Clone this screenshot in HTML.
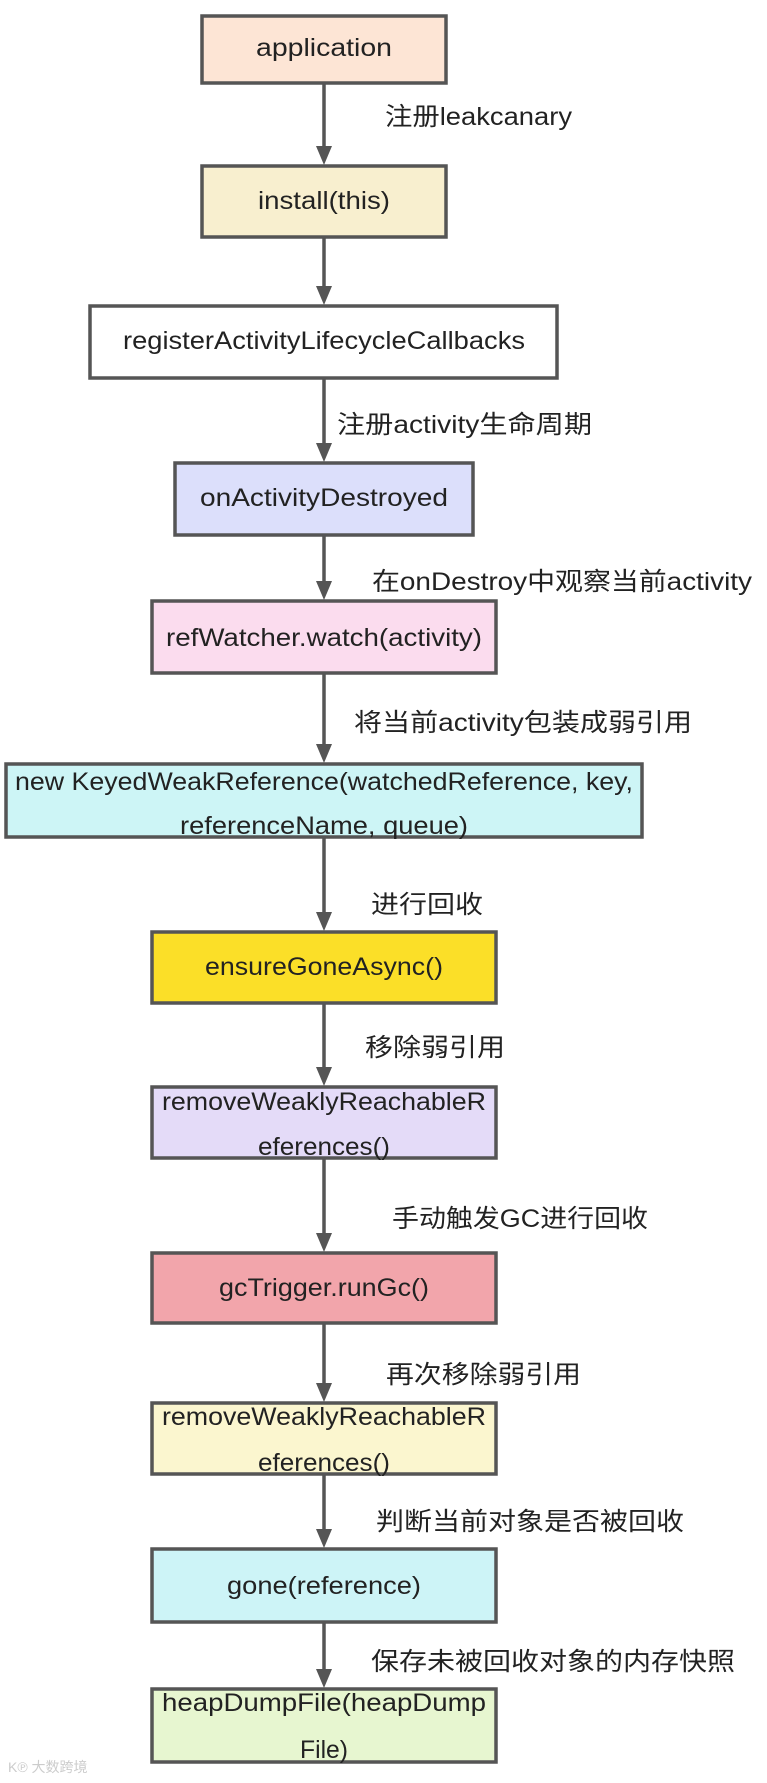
<!DOCTYPE html>
<html><head><meta charset="utf-8"><style>
html,body{margin:0;padding:0;background:#fff;}
svg{display:block;}
.b{stroke:#555;stroke-width:3.5;}
.t{font-family:"Liberation Sans","Noto Sans CJK SC",sans-serif;font-size:25px;fill:#222;text-anchor:middle;dominant-baseline:central;}
.l{font-family:"Liberation Sans","Noto Sans CJK SC",sans-serif;font-size:25px;fill:#222;dominant-baseline:central;}
</style></head><body>
<svg width="767" height="1783" viewBox="0 0 767 1783" xmlns="http://www.w3.org/2000/svg">
<g stroke="#555" stroke-width="3.5">
<line x1="324" y1="83" x2="324" y2="150"/>
<line x1="324" y1="238" x2="324" y2="290"/>
<line x1="324" y1="378" x2="324" y2="446"/>
<line x1="324" y1="535" x2="324" y2="584"/>
<line x1="324" y1="673" x2="324" y2="746"/>
<line x1="324" y1="837" x2="324" y2="915"/>
<line x1="324" y1="1003" x2="324" y2="1070"/>
<line x1="324" y1="1158" x2="324" y2="1235"/>
<line x1="324" y1="1323" x2="324" y2="1386"/>
<line x1="324" y1="1474" x2="324" y2="1532"/>
<line x1="324" y1="1622" x2="324" y2="1672"/>
</g>
<g fill="#555">
<polygon points="316,146 332,146 324,165"/>
<polygon points="316,286 332,286 324,305"/>
<polygon points="316,443 332,443 324,462"/>
<polygon points="316,581 332,581 324,600"/>
<polygon points="316,744 332,744 324,763"/>
<polygon points="316,912 332,912 324,931"/>
<polygon points="316,1067 332,1067 324,1086"/>
<polygon points="316,1233 332,1233 324,1252"/>
<polygon points="316,1383 332,1383 324,1402"/>
<polygon points="316,1529 332,1529 324,1548"/>
<polygon points="316,1669 332,1669 324,1688"/>
</g>
<rect class="b" x="202" y="16" width="244" height="67" fill="#fde5d5"/>
<rect class="b" x="202" y="166" width="244" height="71" fill="#f8efcf"/>
<rect class="b" x="90" y="306" width="467" height="72" fill="#fff"/>
<rect class="b" x="175" y="463" width="298" height="72" fill="#dcdffb"/>
<rect class="b" x="152" y="601" width="344" height="72" fill="#fbdcee"/>
<rect class="b" x="6" y="764" width="636" height="73" fill="#cdf5f6"/>
<rect class="b" x="152" y="932" width="344" height="71" fill="#fbdf28"/>
<rect class="b" x="152" y="1087" width="344" height="71" fill="#e4dbf8"/>
<rect class="b" x="152" y="1253" width="344" height="70" fill="#f2a5ab"/>
<rect class="b" x="152" y="1403" width="344" height="71" fill="#fbf6cf"/>
<rect class="b" x="152" y="1549" width="344" height="73" fill="#cdf4f7"/>
<rect class="b" x="152" y="1689" width="344" height="73" fill="#e7f6d0"/>
<text class="t" x="324" y="48" textLength="136" lengthAdjust="spacingAndGlyphs">application</text>
<text class="t" x="324" y="201" textLength="132" lengthAdjust="spacingAndGlyphs">install(this)</text>
<text class="t" x="324" y="341" textLength="402" lengthAdjust="spacingAndGlyphs">registerActivityLifecycleCallbacks</text>
<text class="t" x="324" y="498" textLength="248" lengthAdjust="spacingAndGlyphs">onActivityDestroyed</text>
<text class="t" x="324" y="638" textLength="316" lengthAdjust="spacingAndGlyphs">refWatcher.watch(activity)</text>
<text class="t" x="324" y="782" textLength="618" lengthAdjust="spacingAndGlyphs">new KeyedWeakReference(watchedReference, key,</text>
<text class="t" x="324" y="826" textLength="288" lengthAdjust="spacingAndGlyphs">referenceName, queue)</text>
<text class="t" x="324" y="967" textLength="238" lengthAdjust="spacingAndGlyphs">ensureGoneAsync()</text>
<text class="t" x="324" y="1102" textLength="324" lengthAdjust="spacingAndGlyphs">removeWeaklyReachableR</text>
<text class="t" x="324" y="1147" textLength="132" lengthAdjust="spacingAndGlyphs">eferences()</text>
<text class="t" x="324" y="1288" textLength="210" lengthAdjust="spacingAndGlyphs">gcTrigger.runGc()</text>
<text class="t" x="324" y="1417" textLength="324" lengthAdjust="spacingAndGlyphs">removeWeaklyReachableR</text>
<text class="t" x="324" y="1463" textLength="132" lengthAdjust="spacingAndGlyphs">eferences()</text>
<text class="t" x="324" y="1586" textLength="194" lengthAdjust="spacingAndGlyphs">gone(reference)</text>
<text class="t" x="324" y="1703" textLength="324" lengthAdjust="spacingAndGlyphs">heapDumpFile(heapDump</text>
<text class="t" x="324" y="1750" textLength="48" lengthAdjust="spacingAndGlyphs">File)</text>
<text class="l" x="385" y="117" textLength="187" lengthAdjust="spacingAndGlyphs">注册leakcanary</text>
<text class="l" x="337" y="425" textLength="255" lengthAdjust="spacingAndGlyphs">注册activity生命周期</text>
<text class="l" x="372" y="582" textLength="380" lengthAdjust="spacingAndGlyphs">在onDestroy中观察当前activity</text>
<text class="l" x="354" y="723" textLength="338" lengthAdjust="spacingAndGlyphs">将当前activity包装成弱引用</text>
<text class="l" x="371" y="905" textLength="112" lengthAdjust="spacingAndGlyphs">进行回收</text>
<text class="l" x="365" y="1048" textLength="140" lengthAdjust="spacingAndGlyphs">移除弱引用</text>
<text class="l" x="392" y="1219" textLength="256" lengthAdjust="spacingAndGlyphs">手动触发GC进行回收</text>
<text class="l" x="386" y="1375" textLength="195" lengthAdjust="spacingAndGlyphs">再次移除弱引用</text>
<text class="l" x="376" y="1522" textLength="308" lengthAdjust="spacingAndGlyphs">判断当前对象是否被回收</text>
<text class="l" x="371" y="1662" textLength="364" lengthAdjust="spacingAndGlyphs">保存未被回收对象的内存快照</text>
<text x="8" y="1772" font-family="Liberation Sans,Noto Sans CJK SC,sans-serif" font-size="14" fill="#ccc">K℗ 大数跨境</text>
</svg>
</body></html>
